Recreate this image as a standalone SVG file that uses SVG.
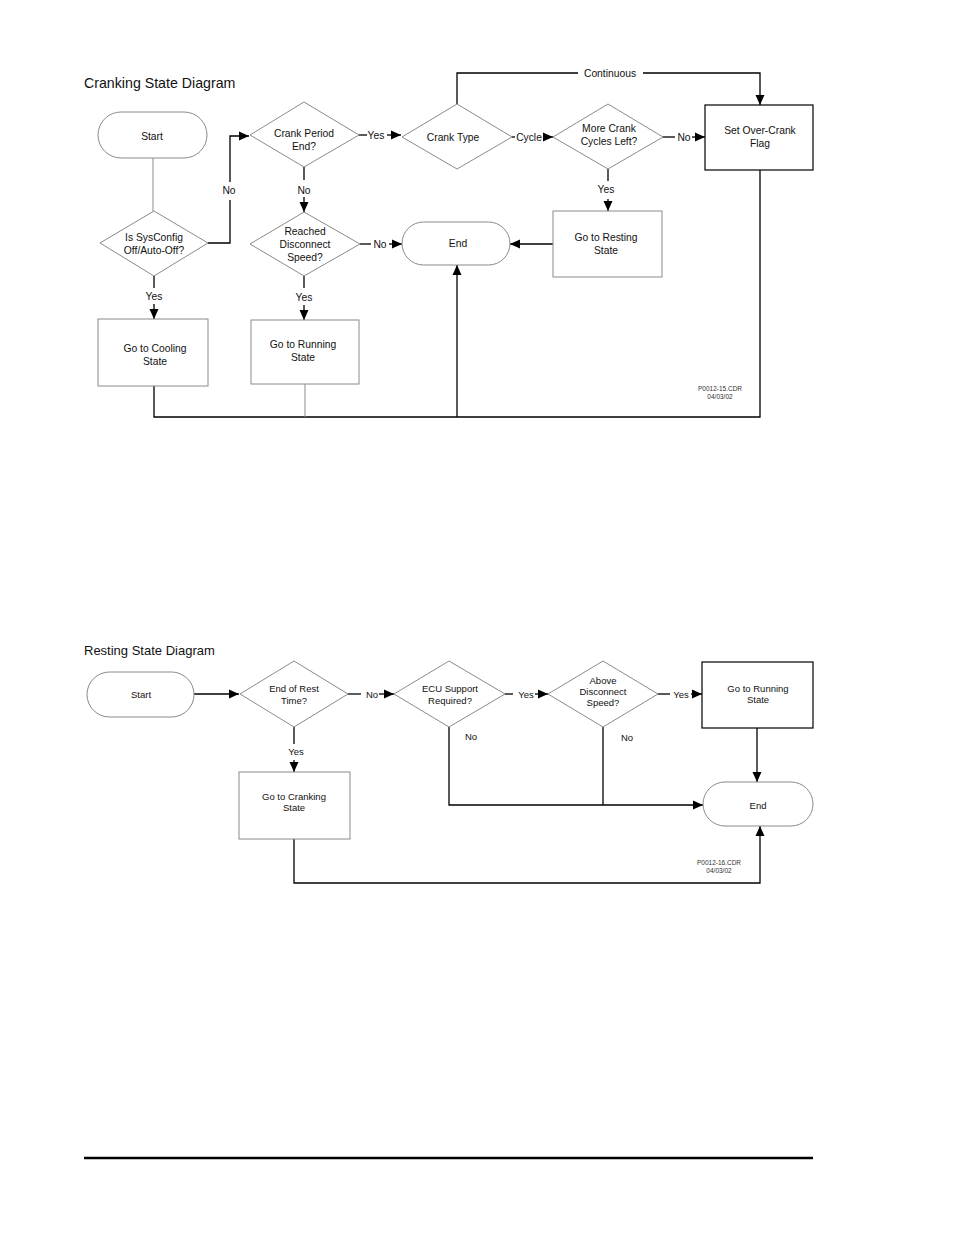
<svg xmlns="http://www.w3.org/2000/svg" width="954" height="1235" viewBox="0 0 954 1235">
<style>
.bg{fill:#fff}
.shape{fill:#fff;stroke:#8a8a8a;stroke-width:1}
.boxk{fill:#fff;stroke:#000;stroke-width:1.2}
.ln{fill:none;stroke:#000;stroke-width:1.3}
.lng{fill:none;stroke:#8a8a8a;stroke-width:1}
.t{font-family:"Liberation Sans",Arial,sans-serif;font-size:10.3px;fill:#111;text-anchor:middle}
.tb{font-family:"Liberation Sans",Arial,sans-serif;font-size:9.5px;fill:#111;text-anchor:middle}
.title{font-family:"Liberation Sans",Arial,sans-serif;font-size:14.2px;fill:#111}
.small{font-family:"Liberation Sans",Arial,sans-serif;font-size:6.5px;fill:#333;text-anchor:middle}
</style>
<defs>
<marker id="ah" markerUnits="userSpaceOnUse" markerWidth="10" markerHeight="10" viewBox="0 0 10 10" refX="10" refY="5" orient="auto">
<path d="M0,0.5 L10,5 L0,9.5 Z" fill="#000"/>
</marker>
</defs>
<rect class="bg" x="0" y="0" width="954" height="1235"/>

<text class="title" x="84" y="88">Cranking State Diagram</text>

<g id="connectors-top">
<line class="lng" x1="153" y1="158" x2="153" y2="211"/>
<polyline class="ln" points="208,243 230,243 230,200"/>
<polyline class="ln" points="230,182 230,136 249,136" marker-end="url(#ah)"/>
<line class="ln" x1="359" y1="135" x2="367" y2="135"/>
<line class="ln" x1="387" y1="135" x2="401" y2="135" marker-end="url(#ah)"/>
<line class="ln" x1="304" y1="167" x2="304" y2="180"/>
<line class="ln" x1="304" y1="197" x2="304" y2="212" marker-end="url(#ah)"/>
<line class="ln" x1="360" y1="244" x2="371" y2="244"/>
<line class="ln" x1="389" y1="244" x2="402" y2="244" marker-end="url(#ah)"/>
<line class="ln" x1="304" y1="276" x2="304" y2="288"/>
<line class="ln" x1="304" y1="305" x2="304" y2="320" marker-end="url(#ah)"/>
<line class="ln" x1="154" y1="276" x2="154" y2="288"/>
<line class="ln" x1="154" y1="304" x2="154" y2="319" marker-end="url(#ah)"/>
<polyline class="ln" points="154,386 154,417 760,417 760,170"/>
<line class="lng" x1="305" y1="384" x2="305" y2="417"/>
<line class="ln" x1="457" y1="417" x2="457" y2="265" marker-end="url(#ah)"/>
<polyline class="ln" points="457,104 457,73 578,73"/>
<polyline class="ln" points="643,73 760,73 760,105" marker-end="url(#ah)"/>
<line class="ln" x1="512" y1="137" x2="515" y2="137"/>
<line class="ln" x1="543" y1="137" x2="553" y2="137" marker-end="url(#ah)"/>
<line class="ln" x1="663" y1="137" x2="675" y2="137"/>
<line class="ln" x1="692" y1="137" x2="705" y2="137" marker-end="url(#ah)"/>
<line class="ln" x1="608" y1="169" x2="608" y2="181"/>
<line class="ln" x1="608" y1="199" x2="608" y2="211" marker-end="url(#ah)"/>
<line class="ln" x1="553" y1="244" x2="510" y2="244" marker-end="url(#ah)"/>
<text class="t" x="229" y="194">No</text>
<text class="t" x="376" y="139">Yes</text>
<text class="t" x="304" y="194">No</text>
<text class="t" x="380" y="248">No</text>
<text class="t" x="304" y="301">Yes</text>
<text class="t" x="154" y="300">Yes</text>
<text class="t" x="610" y="77">Continuous</text>
<text class="t" x="529" y="141">Cycle</text>
<text class="t" x="684" y="141">No</text>
<text class="t" x="606" y="193">Yes</text>
</g>

<g id="start-top">
<rect class="shape" x="98" y="112" width="109" height="46" rx="23"/>
<text class="t" x="152" y="140">Start</text>
</g>
<g id="sysconfig">
<polygon class="shape" points="154,211 208,243 154,276 100,243"/>
<text class="t" x="154" y="241">Is SysConfig</text>
<text class="t" x="154" y="254">Off/Auto-Off?</text>
</g>
<g id="crank-period">
<polygon class="shape" points="304,102 359,135 304,167 250,135"/>
<text class="t" x="304" y="137">Crank Period</text>
<text class="t" x="304" y="150">End?</text>
</g>
<g id="reached">
<polygon class="shape" points="304,212 360,244 304,276 250,244"/>
<text class="t" x="305" y="235">Reached</text>
<text class="t" x="305" y="248">Disconnect</text>
<text class="t" x="305" y="261">Speed?</text>
</g>
<g id="cooling">
<rect class="shape" x="98" y="319" width="110" height="67"/>
<text class="t" x="155" y="352">Go to Cooling</text>
<text class="t" x="155" y="365">State</text>
</g>
<g id="running-top">
<rect class="shape" x="251" y="320" width="108" height="64"/>
<text class="t" x="303" y="348">Go to Running</text>
<text class="t" x="303" y="361">State</text>
</g>
<g id="end-top">
<rect class="shape" x="402" y="222" width="108" height="43" rx="21.5"/>
<text class="t" x="458" y="247">End</text>
</g>
<g id="crank-type">
<polygon class="shape" points="457,104 512,137 457,169 402,137"/>
<text class="t" x="453" y="141">Crank Type</text>
</g>
<g id="more-crank">
<polygon class="shape" points="608,104 663,137 608,169 553,137"/>
<text class="t" x="609" y="132">More Crank</text>
<text class="t" x="609" y="145">Cycles Left?</text>
</g>
<g id="over-crank">
<rect class="boxk" x="705" y="105" width="108" height="65"/>
<text class="t" x="760" y="134">Set Over-Crank</text>
<text class="t" x="760" y="147">Flag</text>
</g>
<g id="resting">
<rect class="shape" x="553" y="211" width="109" height="66"/>
<text class="t" x="606" y="241">Go to Resting</text>
<text class="t" x="606" y="254">State</text>
</g>
<g id="ref-top">
<text class="small" x="720" y="391">P0012-15.CDR</text>
<text class="small" x="720" y="399">04/03/02</text>
</g>

<text class="title" x="84" y="655" style="font-size:13px">Resting State Diagram</text>

<g id="connectors-bottom">
<line class="ln" x1="194" y1="694" x2="239" y2="694" marker-end="url(#ah)"/>
<line class="ln" x1="348" y1="694" x2="361" y2="694"/>
<line class="ln" x1="379" y1="694" x2="394" y2="694" marker-end="url(#ah)"/>
<line class="ln" x1="505" y1="694" x2="513" y2="694"/>
<line class="ln" x1="535" y1="694" x2="548" y2="694" marker-end="url(#ah)"/>
<line class="ln" x1="658" y1="694" x2="670" y2="694"/>
<line class="ln" x1="691" y1="694" x2="702" y2="694" marker-end="url(#ah)"/>
<line class="ln" x1="757" y1="728" x2="757" y2="782" marker-end="url(#ah)"/>
<polyline class="ln" points="449,727 449,805 703,805" marker-end="url(#ah)"/>
<line class="ln" x1="603" y1="727" x2="603" y2="805"/>
<line class="ln" x1="294" y1="727" x2="294" y2="744"/>
<line class="ln" x1="294" y1="760" x2="294" y2="772" marker-end="url(#ah)"/>
<polyline class="ln" points="294,839 294,883 760,883 760,826" marker-end="url(#ah)"/>
<text class="tb" x="372" y="698">No</text>
<text class="tb" x="526" y="698">Yes</text>
<text class="tb" x="681" y="698">Yes</text>
<text class="tb" x="471" y="740">No</text>
<text class="tb" x="627" y="741">No</text>
<text class="tb" x="296" y="755">Yes</text>
</g>

<g id="start-bottom">
<rect class="shape" x="87" y="672" width="107" height="45" rx="22.5"/>
<text class="tb" x="141" y="698">Start</text>
</g>
<g id="end-of-rest">
<polygon class="shape" points="294,661 348,694 294,727 240,694"/>
<text class="tb" x="294" y="692">End of Rest</text>
<text class="tb" x="294" y="704">Time?</text>
</g>
<g id="ecu">
<polygon class="shape" points="449,661 505,694 449,727 394,694"/>
<text class="tb" x="450" y="692">ECU Support</text>
<text class="tb" x="450" y="704">Required?</text>
</g>
<g id="above">
<polygon class="shape" points="603,661 658,694 603,727 548,694"/>
<text class="tb" x="603" y="684">Above</text>
<text class="tb" x="603" y="695">Disconnect</text>
<text class="tb" x="603" y="706">Speed?</text>
</g>
<g id="running-bottom">
<rect class="boxk" x="702" y="662" width="111" height="66"/>
<text class="tb" x="758" y="692">Go to Running</text>
<text class="tb" x="758" y="703">State</text>
</g>
<g id="end-bottom">
<rect class="shape" x="703" y="782" width="110" height="44" rx="22"/>
<text class="tb" x="758" y="809">End</text>
</g>
<g id="cranking">
<rect class="shape" x="239" y="772" width="111" height="67"/>
<text class="tb" x="294" y="800">Go to Cranking</text>
<text class="tb" x="294" y="811">State</text>
</g>
<g id="ref-bottom">
<text class="small" x="719" y="865">P0012-16.CDR</text>
<text class="small" x="719" y="873">04/03/02</text>
</g>

<line x1="84" y1="1158" x2="813" y2="1158" stroke="#000" stroke-width="2.5"/>
</svg>
